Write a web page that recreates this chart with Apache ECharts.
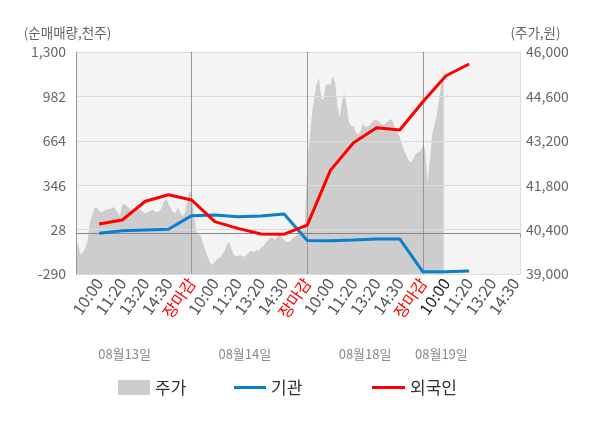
<!DOCTYPE html>
<html>
<head>
  <meta charset="utf-8" />
  <title>수급 차트</title>
  <script src="https://cdn.jsdelivr.net/npm/echarts@6/dist/echarts.min.js"></script>
</head>
<body style="margin:0;">
  <div id="main" style="width:600px;height:428px;"></div>
  <script type="text/javascript">
    // 한 슬롯 = 10칸, 하루 = 5슬롯
    var slotLabels = [
      '10:00', '11:20', '13:20', '14:30', '장마감',
      '10:00', '11:20', '13:20', '14:30', '장마감',
      '10:00', '11:20', '13:20', '14:30', '장마감',
      '10:00', '11:20', '13:20', '14:30'
    ];
    var dateLabels = ['08월13일', '08월14일', '08월18일', '08월19일'];
    var datePos = [21, 73, 125, 158];

    // 순매매량 (천주), 슬롯별
    var foreignNet = [68, 97, 231, 278, 240, 85, 37, -3, -5, 60, 452, 650, 758, 741, 944, 1130, 1214];
    var instNet = [2, 20, 25, 30, 128, 133, 120, 125, 140, -50, -52, -47, -40, -39, -274, -274, -268];

    // 주가 (원)
    var price = [
      40070, 39880, 39600, 39690, 39820, 40040, 40610, 40860, 41080, 41080,
      40990, 40950, 40990, 41020, 41050, 41050, 41110, 41050, 40950, 40830,
      41180, 41210, 41140, 41080, 40990, 40920, 40990, 41050, 41020, 40950,
      40920, 40950, 40990, 41020, 40990, 40950, 40990, 41080, 41270, 41400,
      41210, 41080, 40950, 40920, 41110, 40950, 40830, 40920, 41240, 41590,
      41550, 40920, 40320, 40230, 40200, 39950, 39730, 39540, 39350, 39280,
      39380, 39470, 39500, 39600, 39690, 39880, 40010, 39850, 39630, 39570,
      39570, 39600, 39570, 39540, 39630, 39690, 39730, 39690, 39760, 39730,
      39820, 39880, 39980, 40070, 40140, 40140, 40070, 40170, 40230, 40140,
      40070, 40010, 40010, 40070, 40140, 40200, 40260, 40320, 40450, 40640,
      42440, 43230, 44010, 44550, 44990, 45180, 44550, 44490, 44960, 44990,
      44930, 45240, 45050, 44330, 43950, 44420, 44680, 44330, 43790, 43670,
      43670, 43450, 43410, 43480, 43760, 43640, 43640, 43700, 43790, 43860,
      43860, 43820, 43730, 43700, 43760, 43820, 43890, 43820, 43600, 43450,
      43320, 43070, 42880, 42720, 42560, 42530, 42660, 42780, 42850, 42880,
      43070, 42910, 41900, 42530, 43380, 43700, 44010, 44490, 45050, 45430
    ];

    var leftTicks = [-290, 28, 346, 664, 982, 1300];
    var rightTicks = [39000, 40400, 41800, 43200, 44600, 46000];

    var FONT = '"Noto Sans CJK KR", "Noto Sans", sans-serif';
    var cats = [];
    for (var i = 0; i <= 192; i++) cats.push(i);

    var toSlot = function (arr) {
      return arr.map(function (v, i) { return [(i + 1) * 10, v]; });
    };
    var fmt = function (v) { return Number(v).toLocaleString('en-US'); };
    var legendText = { fontSize: 17, color: '#333', fontFamily: FONT };

    var myChart = echarts.init(document.getElementById('main'));

    var option = {
      animation: false,
      textStyle: { fontFamily: FONT },
      grid: {
        left: 76, right: 80, top: 52, bottom: 154,
        show: true, backgroundColor: '#f4f4f4', borderWidth: 0, z: -2
      },
      legend: [
        { data: ['주가'], left: 113, top: 374, icon: 'rect', itemWidth: 32, itemHeight: 15, itemGap: 0,
          textStyle: legendText },
        { data: ['기관'], left: 229, top: 374, icon: 'rect', itemWidth: 32, itemHeight: 3,
          textStyle: legendText },
        { data: ['외국인'], left: 367, top: 374, icon: 'rect', itemWidth: 33, itemHeight: 3,
          textStyle: legendText }
      ],
      xAxis: [
        {
          type: 'category',
          data: cats,
          boundaryGap: false,
          axisLine: { lineStyle: { color: '#999' } },
          axisTick: {
            show: true, length: 4, lineStyle: { color: '#999' },
            interval: function (i) { return i % 50 === 0 || i === 192; }
          },
          splitLine: {
            show: true, lineStyle: { color: '#999' },
            interval: function (i) { return i > 0 && i < 192 && i % 50 === 0; }
          },
          axisLabel: {
            rotate: 55,
            margin: 6,
            fontSize: 16,
            color: '#555',
            fontFamily: FONT,
            interval: function (i) { return i > 0 && i % 10 === 0 && i <= 190; },
            formatter: function (v, i) {
              var s = slotLabels[i / 10 - 1];
              if (s === '장마감') return '{r|' + s + '}';
              if (i === 160) return '{b|' + s + '}';
              return s;
            },
            rich: {
              r: { color: '#ff0000', fontSize: 16, fontFamily: FONT },
              b: { color: '#222', fontSize: 16, fontFamily: FONT }
            }
          }
        },
        {
          type: 'category',
          data: cats,
          boundaryGap: false,
          position: 'bottom',
          offset: 66,
          axisLine: { show: false },
          axisTick: { show: false },
          splitLine: { show: false },
          axisLabel: {
            fontSize: 13,
            color: '#888',
            fontFamily: FONT,
            interval: function (i) { return datePos.indexOf(i) >= 0; },
            formatter: function (v, i) { return dateLabels[datePos.indexOf(i)]; }
          }
        }
      ],
      yAxis: [
        {
          type: 'value',
          min: -290, max: 1300, interval: 318,
          name: '(순매매량,천주)',
          nameLocation: 'end',
          nameGap: 12,
          nameTextStyle: { color: '#666', fontSize: 13.5, fontFamily: FONT, align: 'center', padding: [0, 17, 0, 0] },
          axisLine: { show: true, lineStyle: { color: '#999' } },
          axisTick: { show: false, customValues: leftTicks },
          splitLine: { lineStyle: { color: '#dcdcdc' } },
          axisLabel: { customValues: leftTicks, color: '#666', fontSize: 14, margin: 10, fontFamily: FONT, formatter: fmt }
        },
        {
          type: 'value',
          min: 39000, max: 46000, interval: 1400,
          name: '(주가,원)',
          nameLocation: 'end',
          nameGap: 12,
          nameTextStyle: { color: '#666', fontSize: 13.5, fontFamily: FONT, align: 'center', padding: [0, 0, 0, 31] },
          axisLine: { show: true, lineStyle: { color: '#ddd' } },
          axisTick: { show: false, customValues: rightTicks },
          splitLine: { show: false },
          axisLabel: { customValues: rightTicks, color: '#666', fontSize: 14, margin: 6, fontFamily: FONT, formatter: fmt }
        }
      ],
      series: [
        {
          name: '주가',
          type: 'line',
          yAxisIndex: 1,
          data: price,
          symbol: 'none',
          z: -1,
          lineStyle: { width: 0, color: '#cdcdcd' },
          itemStyle: { color: '#cdcdcd' },
          areaStyle: { color: '#cdcdcd', opacity: 1, origin: 'start' }
        },
        {
          name: '기관',
          type: 'line',
          yAxisIndex: 0,
          data: toSlot(instNet),
          symbol: 'none',
          lineStyle: { width: 3, color: '#0a7fcf' },
          itemStyle: { color: '#0a7fcf' },
          markLine: {
            silent: true, symbol: 'none', z: 1,
            label: { show: false },
            lineStyle: { color: '#888', width: 1, type: 'solid' },
            data: [{ yAxis: 0 }]
          }
        },
        {
          name: '외국인',
          type: 'line',
          yAxisIndex: 0,
          data: toSlot(foreignNet),
          symbol: 'none',
          lineStyle: { width: 3, color: '#ff0000' },
          itemStyle: { color: '#ff0000' }
        }
      ]
    };

    option && myChart.setOption(option);
  </script>
</body>
</html>
